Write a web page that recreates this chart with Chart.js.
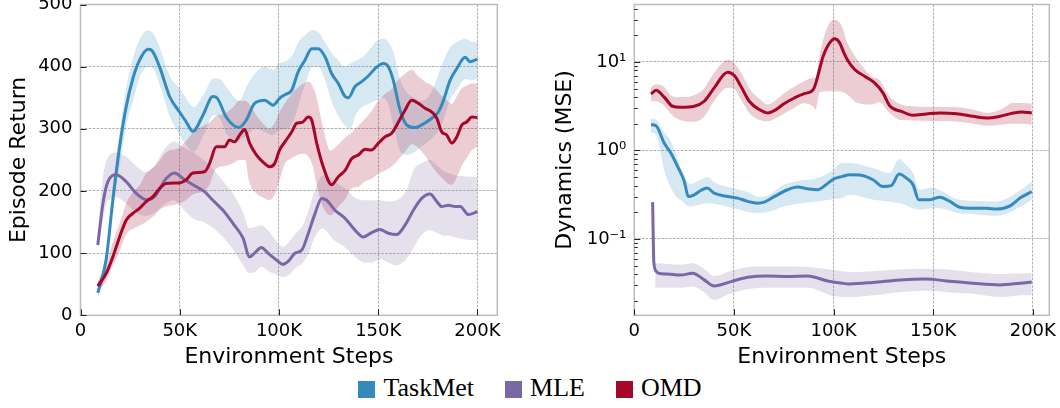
<!DOCTYPE html>
<html><head><meta charset="utf-8">
<script src="https://cdn.jsdelivr.net/npm/chart.js@4.4.1/dist/chart.umd.min.js"></script>
<style>
html,body{margin:0;padding:0;background:#fff;width:1060px;height:408px;overflow:hidden}
#c1{position:absolute;left:0;top:0}
#c2{position:absolute;left:530px;top:0}
#legend{position:absolute;left:0;top:374.9px;width:1060px;display:flex;justify-content:center;font-family:'Liberation Serif',serif;font-size:26px;line-height:26px;color:#000}
.item{display:flex;align-items:flex-start;margin:0 15.5px;white-space:nowrap}
.sw{width:17px;height:17px;margin-top:6px;margin-right:8px}
</style></head><body>
<canvas id="c1" width="515" height="372"></canvas>
<canvas id="c2" width="530" height="372"></canvas>
<div id="legend"></div>
<script>
// ---------- data (x in thousands of environment steps) ----------
const seriesNames = ['TaskMet', 'MLE', 'OMD'];
const xTicksK = [0, 50, 100, 150, 200];
const returnTicks = [0, 100, 200, 300, 400, 500];

// Left panel: Episode Return
const retTaskMetX = [8.7,12.9,16.3,19.7,23,26.4,29.7,34,35.6,39.8,44.9,49.9,53.3,56.6,61.7,66.7,69,73.4,79.8,83.5,87.7,92.8,97,100.3,103,106.4,109.7,113,116.5,119.8,123.2,126.5,129.9,133.3,135,138.3,141.7,145,148.4,152.6,155.1,157.6,161,164.4,168.6,172.8,177,180.3,182.9,186.2,189.6,193.8,196.3,200];
const retTaskMetY = [36,89,185,271,335,381,410,428,427,400,352,327,311,296,322,352,349,319,302,314,341,346,338,349,355,362,392,410,429,429,416,389,373,352,350,368,376,385,397,405,400,378,330,306,302,308,317,327,346,378,397,415,408,412];
const retTaskMetBandX = [8.7,13,16,20,23,27,30,34,37,40,45,50,53,57,62,67,70,74,80,84,88,93,97,100,104,107,110,113,117,120,123,127,130,133,136,139,142,145,149,152,155,158,161,164,168,172,177,180,183,186,190,194,197,200];
const retTaskMetLo = [25,75,165,245,305,350,385,400,395,370,320,290,275,263,290,322,318,290,282,290,300,295,290,298,300,310,340,370,400,400,380,340,320,306,300,325,335,340,346,350,340,300,265,258,262,272,285,295,315,345,365,380,378,380];
const retTaskMetHi = [50,105,205,300,365,420,445,458,452,430,385,365,350,335,355,381,380,365,345,370,390,400,395,405,410,420,440,450,459,455,440,420,410,400,405,410,415,425,440,445,440,420,380,360,350,345,360,385,410,430,440,445,440,440];

const retMleX = [8.7,11.3,13.8,18,23,28.1,33.1,37.3,43.2,47.4,51.6,56.6,62.5,66.7,71.8,76.8,81.9,85.2,87.7,91.1,94.5,98.7,102,105,108,111.5,114.8,118.2,121.5,124,128.2,133.3,138.3,142.5,146.7,150.9,155.1,159.3,163.5,167.7,171.9,176.1,179.5,182,185.4,188.7,191.3,195.5,200];
const retMleY = [113,180,215,226,215,196,186,191,220,229,220,210,199,185,169,148,124,94,100,109,100,89,82,88,100,105,132,164,188,185,169,156,137,126,133,138,132,130,145,169,188,195,183,175,177,175,175,162,167];
const retMleBandX = [8.7,11,14,18,23,28,33,37,43,47,52,57,62,67,72,77,82,85,88,91,95,99,102,105,108,112,115,118,122,124,128,133,138,143,147,151,155,159,164,168,172,176,180,183,186,189,192,196,200];
const retMleLo = [105,150,185,190,180,165,160,165,180,185,170,155,150,140,125,105,80,68,70,78,70,65,62,65,75,85,100,125,140,135,120,110,95,85,85,90,85,80,90,110,130,137,132,128,128,125,123,121,121];
const retMleHi = [125,215,255,262,255,240,230,240,270,280,270,262,250,235,215,195,165,140,142,145,135,118,110,118,130,145,170,200,225,225,215,205,190,185,185,185,183,185,200,235,245,250,240,232,228,225,224,223,223];

const retOmdX = [8.7,12.9,16.3,19.7,23,26.4,29.7,33.1,36.5,39.8,43.2,49.9,53.3,56.6,62.5,65,68.4,72.6,75.1,77.6,80.2,82.7,85.2,88.6,92.8,95.3,97.8,100.3,103,106.4,108.9,111.5,114.8,116.5,119,122.3,126.5,129.9,133.3,136.6,140,143.4,146.7,150.1,153.4,156.8,160.2,163.5,166.9,170.2,173.6,177,179.5,182,184.5,187.1,189.6,192.1,194.6,197.2,200];
const retOmdY = [47,67,94,126,153,164,172,183,191,204,212,213,218,229,231,244,271,271,282,279,290,299,277,258,244,239,244,266,279,295,309,310,319,314,277,239,210,223,233,252,258,267,266,277,287,293,311,330,346,341,333,327,317,295,290,277,287,306,311,319,318];
const retOmdBandX = [8.7,13,16,20,23,27,30,33,37,40,43,50,53,57,62,65,68,73,77,80,83,85,89,93,95,98,100,103,106,109,112,115,117,119,122,126,130,133,137,140,143,147,150,153,157,160,164,167,170,174,177,180,183,185,187,190,192,195,197,200];
const retOmdLo = [40,55,78,105,130,140,145,150,160,170,175,180,185,195,200,210,235,240,245,250,250,215,195,188,185,195,215,244,252,258,260,255,240,210,175,161,175,185,205,207,215,220,228,232,240,250,265,275,270,255,240,228,218,212,210,225,240,255,265,271];
const retOmdHi = [55,80,115,150,180,200,210,228,238,250,262,270,280,295,305,310,320,325,335,345,345,340,320,305,300,310,325,341,355,365,372,376,368,350,305,265,275,285,295,305,315,330,345,355,365,378,390,395,385,375,370,360,350,345,340,355,365,370,373,373];

// Right panel: Dynamics (MSE), log scale
const dynTaskMetX = [8.4,10.9,15,18.4,21.7,25.1,27.1,30.1,33.4,36.5,40.1,46.8,51.8,56.9,61.9,65.2,70.2,76.9,81.9,87,92,96.2,100.3,104.5,108,113.1,119.8,124.8,129,132.9,136.6,139.9,142.8,148.3,153.4,158.4,163.4,170.1,176.8,181.9,188.6,193.6,199.5];
const dynTaskMetY = [1.95,1.9,1.21,0.93,0.66,0.446,0.301,0.315,0.352,0.375,0.329,0.301,0.289,0.265,0.253,0.26,0.30,0.359,0.385,0.368,0.359,0.409,0.478,0.508,0.53,0.526,0.466,0.391,0.40,0.54,0.486,0.409,0.277,0.277,0.296,0.265,0.228,0.222,0.222,0.217,0.236,0.289,0.343];
const dynTaskMetBandX = [8.4,11,15,18,21,23,28,33,37,40,50,58,62,67,75,82,92,100,104,108,120,128,133,136,140,143,150,153,163,170,182,194,199.5];
const dynTaskMetLo = [1.57,1.5,0.6,0.39,0.3,0.276,0.232,0.245,0.253,0.25,0.222,0.2,0.195,0.2,0.232,0.25,0.265,0.28,0.289,0.315,0.277,0.265,0.253,0.242,0.22,0.213,0.222,0.222,0.195,0.19,0.182,0.232,0.277];
const dynTaskMetHi = [2.3,2.22,1.6,1.32,0.9,0.66,0.42,0.46,0.5,0.44,0.37,0.33,0.30,0.31,0.409,0.45,0.486,0.6,0.72,0.72,0.63,0.554,0.8,0.7,0.55,0.359,0.38,0.359,0.277,0.27,0.265,0.359,0.446];

const dynMleX = [9.2,9.8,11,12,16.7,23.4,29.3,35.1,40.1,48.5,56.9,66.9,76.9,87,97,104.5,108,119.8,133.2,146.6,156.7,170.1,183.6,193.6,199.5];
const dynMleY = [0.26,0.055,0.043,0.041,0.040,0.039,0.041,0.0344,0.0294,0.0329,0.0368,0.0381,0.0375,0.038,0.0335,0.0315,0.031,0.0322,0.0344,0.0352,0.0335,0.0315,0.0302,0.0315,0.0325];
const dynMleBandX = [10.5,17,23,29,35,40,48,57,67,77,87,100,110,120,133,147,157,170,184,194,199.5];
const dynMleLo = [0.028,0.028,0.028,0.029,0.025,0.0204,0.024,0.027,0.028,0.028,0.028,0.0226,0.022,0.023,0.025,0.026,0.025,0.024,0.022,0.023,0.0232];
const dynMleHi = [0.053,0.052,0.051,0.053,0.046,0.038,0.043,0.048,0.049,0.049,0.048,0.0446,0.042,0.043,0.045,0.046,0.045,0.042,0.040,0.041,0.041];

const dynOmdX = [8.4,10.9,15,19.2,23.4,30.1,35.1,40.1,46.8,50.2,53.5,57.7,62.7,66.9,71.1,75.3,80.3,85.3,89.8,94.8,97,100.5,103,105,107,110.6,115.6,120.6,124.8,128.4,134.1,139.9,146.6,153.4,161.7,170.1,176.8,183.6,190.3,194.5,199.5];
const dynOmdY = [4.34,4.78,4.0,3.15,3.07,3.15,3.59,5.08,7.64,7.0,5.3,3.59,2.89,2.65,2.89,3.38,3.91,4.38,4.87,11.6,15.0,18.2,16.5,13,10.5,8.2,6.88,5.78,4.46,3.15,2.76,2.49,2.58,2.65,2.6,2.43,2.32,2.43,2.65,2.72,2.65];
const dynOmdBandX = [8.4,11,15,19,23,30,35,40,47,50,54,58,63,67,71,75,80,85,90,91,93,97,100,104,107,112,119,123,128,134,140,150,160,170,177,184,190,195,199.5];
const dynOmdLo = [3.6,3.6,3.2,2.5,2.2,2.1,2.4,3.6,5.1,5.0,3.6,2.6,2.2,2.13,2.3,2.6,3.0,3.4,3.1,2.9,4.5,4.65,4.65,4.6,4.26,3.43,3.3,3.5,2.67,2.2,2.18,2.15,2.13,2.0,1.9,1.95,2.0,2.0,1.95];
const dynOmdHi = [5.2,5.6,5.2,4.1,4.0,4.2,5.0,7.5,10.6,9.8,7.3,4.9,3.8,3.3,3.7,4.4,5.2,6.0,6.6,6.6,12,25,30,26,16.4,10.6,6.9,6.3,4.1,3.3,3.15,3.1,3.1,2.9,2.65,2.9,3.43,3.43,3.38];

// ---------- styling ----------
const COLORS = { TaskMet: '#348ABD', MLE: '#7A68A6', OMD: '#A60628' };
const GRID = '#b2b2b2';
Chart.defaults.font.family = "'DejaVu Sans', sans-serif";
Chart.defaults.color = '#000';

function rgba(hex, a) {
  const n = parseInt(hex.slice(1), 16);
  return `rgba(${(n >> 16) & 255},${(n >> 8) & 255},${n & 255},${a})`;
}
function pts(xs, ys) { return xs.map((x, i) => ({ x, y: ys[i] })); }
function bandSets(xs, lo, hi, color, ord) {
  return [
    { data: pts(xs, hi), borderWidth: 0, borderColor: 'rgba(0,0,0,0)', pointRadius: 0,
      backgroundColor: rgba(color, 0.2), fill: '+1', order: ord, cubicInterpolationMode: 'monotone' },
    { data: pts(xs, lo), borderWidth: 0, borderColor: 'rgba(0,0,0,0)', pointRadius: 0,
      fill: false, order: ord, cubicInterpolationMode: 'monotone' }
  ];
}
function lineSet(xs, ys, color, ord) {
  return { data: pts(xs, ys), borderColor: color, borderWidth: 3, pointRadius: 0, fill: false,
    order: ord, cubicInterpolationMode: 'monotone', borderJoinStyle: 'round', borderCapStyle: 'butt' };
}
const isPow10 = v => { const e = Math.log10(v); return Math.abs(e - Math.round(e)) < 1e-9; };
const SUP = { '-': '⁻', '0': '⁰', '1': '¹', '2': '²', '3': '³', '4': '⁴', '5': '⁵', '6': '⁶', '7': '⁷', '8': '⁸', '9': '⁹' };
const supStr = n => String(n).split('').map(c => SUP[c]).join('');

// frame + inward ticks
const frameTicks = {
  id: 'frameTicks',
  afterDatasetsDraw(chart) {
    const { ctx, chartArea: a } = chart;
    const xs = chart.scales.x, ys = chart.scales.y;
    ctx.save();
    ctx.strokeStyle = '#bcbcbc'; ctx.lineWidth = 1.5;
    ctx.strokeRect(a.left, a.top, a.right - a.left, a.bottom - a.top);
    ctx.strokeStyle = '#222'; ctx.lineWidth = 1;
    ctx.beginPath();
    xTicksK.forEach(v => {
      const p = Math.round(xs.getPixelForValue(v)) + 0.5;
      ctx.moveTo(p, a.bottom); ctx.lineTo(p, a.bottom - 6);
    });
    if (ys.type === 'logarithmic') {
      for (let e = -3; e <= 2; e++) {
        for (let k = 1; k <= 9; k++) {
          const v = k * Math.pow(10, e);
          if (v < ys.min || v > ys.max) continue;
          const p = Math.round(ys.getPixelForValue(v)) + 0.5;
          ctx.moveTo(a.left, p); ctx.lineTo(a.left + (k === 1 ? 6 : 3.5), p);
        }
      }
    } else {
      returnTicks.forEach(v => {
        const p = Math.round(ys.getPixelForValue(v)) + 0.5;
        ctx.moveTo(a.left, p); ctx.lineTo(a.left + 6, p);
      });
    }
    ctx.stroke();
    ctx.restore();
  }
};

function xScale(max) {
  return {
    type: 'linear', min: 0, max: max,
    ticks: { stepSize: 50, includeBounds: false, autoSkip: false, maxRotation: 0,
      callback: v => v === 0 ? '0' : v + 'K', font: { size: 18 }, color: '#000', padding: 5 },
    grid: { color: GRID, lineWidth: 1, drawTicks: false },
    border: { display: false, dash: [2.6, 1.3] },
    title: { display: true, text: 'Environment Steps', font: { size: 22 }, color: '#000', padding: { top: 0, bottom: 1.4 } },
    afterFit(s) { s.height = 56.7; s.paddingLeft = 0; s.paddingRight = 0; }
  };
}

// ---------- left chart ----------
new Chart(document.getElementById('c1'), {
  type: 'line',
  data: { datasets: [
    lineSet(retOmdX, retOmdY, COLORS.OMD, 0),
    lineSet(retMleX, retMleY, COLORS.MLE, 1),
    lineSet(retTaskMetX, retTaskMetY, COLORS.TaskMet, 2),
    ...bandSets(retOmdBandX, retOmdLo, retOmdHi, COLORS.OMD, 10),
    ...bandSets(retMleBandX, retMleLo, retMleHi, COLORS.MLE, 11),
    ...bandSets(retTaskMetBandX, retTaskMetLo, retTaskMetHi, COLORS.TaskMet, 12)
  ] },
  options: {
    responsive: false, animation: false, devicePixelRatio: 1,
    layout: { padding: { left: 0, top: 4.5, right: 17.7, bottom: 0 } },
    plugins: { legend: { display: false }, tooltip: { enabled: false } },
    scales: {
      x: xScale(210),
      y: {
        type: 'linear', min: 0, max: 500,
        ticks: { stepSize: 100, autoSkip: false, font: { size: 18 }, color: '#000', padding: 8,
          callback: v => returnTicks.includes(v) ? String(v) : '' },
        grid: { color: GRID, lineWidth: 1, drawTicks: false },
        border: { display: false, dash: [2.6, 1.3] },
        title: { display: true, text: 'Episode Return', font: { size: 22 }, color: '#000', padding: { top: 6.2, bottom: 0 } },
        afterFit(s) { s.width = 80.5; s.paddingTop = 0; s.paddingBottom = 0; }
      }
    }
  },
  plugins: [frameTicks]
});

// ---------- right chart ----------
new Chart(document.getElementById('c2'), {
  type: 'line',
  data: { datasets: [
    lineSet(dynOmdX, dynOmdY, COLORS.OMD, 0),
    lineSet(dynMleX, dynMleY, COLORS.MLE, 1),
    lineSet(dynTaskMetX, dynTaskMetY, COLORS.TaskMet, 2),
    ...bandSets(dynOmdBandX, dynOmdLo, dynOmdHi, COLORS.OMD, 10),
    ...bandSets(dynMleBandX, dynMleLo, dynMleHi, COLORS.MLE, 11),
    ...bandSets(dynTaskMetBandX, dynTaskMetLo, dynTaskMetHi, COLORS.TaskMet, 12)
  ] },
  options: {
    responsive: false, animation: false, devicePixelRatio: 1,
    layout: { padding: { left: 0, top: 4.5, right: 10.7, bottom: 0 } },
    plugins: { legend: { display: false }, tooltip: { enabled: false } },
    scales: {
      x: xScale(208.3),
      y: {
        type: 'logarithmic', min: 0.01369, max: 44.5,
        ticks: { autoSkip: false, font: { size: 18 }, color: '#000', padding: 8,
          callback: v => isPow10(v) ? '10' + supStr(Math.round(Math.log10(v))) : '' },
        grid: { color: c => (c.tick && isPow10(c.tick.value)) ? GRID : 'rgba(0,0,0,0)', lineWidth: 1, drawTicks: false },
        border: { display: false, dash: [2.6, 1.3] },
        title: { display: true, text: 'Dynamics (MSE)', font: { size: 22 }, color: '#000', padding: { top: 22.5, bottom: 0 } },
        afterFit(s) { s.width = 104.3; s.paddingTop = 0; s.paddingBottom = 0; }
      }
    }
  },
  plugins: [frameTicks]
});

// ---------- legend ----------
const legend = document.getElementById('legend');
seriesNames.forEach(n => {
  const item = document.createElement('div'); item.className = 'item';
  const sw = document.createElement('span'); sw.className = 'sw'; sw.style.background = COLORS[n];
  const tx = document.createElement('span'); tx.textContent = n;
  item.appendChild(sw); item.appendChild(tx); legend.appendChild(item);
});
</script>
</body></html>
